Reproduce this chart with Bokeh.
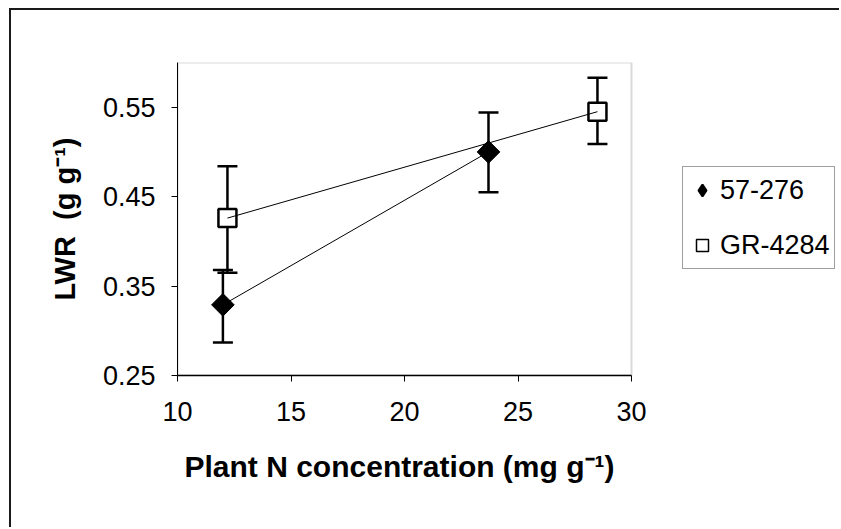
import math
from bokeh.plotting import figure
from bokeh.models import (ColumnDataSource, Whisker, TeeHead, Legend, LegendItem, BoxAnnotation,
                          FixedTicker, NumeralTickFormatter, Range1d, InlineStyleSheet, Title)
from bokeh.embed import file_html
from bokeh.resources import INLINE

# ---- data ----
series_names = ["57-276", "GR-4284"]
n_conc_57 = [12.0, 23.7]
lwr_57 = [0.329, 0.500]
lwr_57_upper = [0.368, 0.544]
lwr_57_lower = [0.287, 0.455]

n_conc_gr = [12.2, 28.5]
lwr_gr = [0.426, 0.545]
lwr_gr_upper = [0.484, 0.583]
lwr_gr_lower = [0.365, 0.509]

x_ticks = [10, 15, 20, 25, 30]
y_ticks = [0.25, 0.35, 0.45, 0.55]
x_lim = (10, 30)
y_lim = (0.25, 0.60)
x_title = "Plant N concentration (mg g\u207b\u00b9)"
y_title = "LWR\u00a0 (g g\u207b\u00b9)"

FONT = "Liberation Sans"

# layout (pixels): canvas is offset by the outer frame (margin 9/8 + 2px border)
CANVAS_W, CANVAS_H = 830, 519
BORDER_L, BORDER_T, BORDER_B = 166, 52, 154
PLOT_W = 454                       # width of the boxed plot area
FRAME_W = CANVAS_W - BORDER_L      # frame runs to the right edge (room for legend)
x_end = x_lim[0] + (x_lim[1] - x_lim[0]) * FRAME_W / PLOT_W

p = figure(width=CANVAS_W, height=CANVAS_H, output_backend="svg", toolbar_location=None,
           x_range=Range1d(x_lim[0], x_end), y_range=Range1d(*y_lim),
           min_border_left=BORDER_L, min_border_right=0, min_border_top=BORDER_T,
           min_border_bottom=BORDER_B)
p.margin = (8, 0, 0, 9)
p.stylesheets = [InlineStyleSheet(css=":host { border-left: 2px solid #1a1a1a; border-top: 2px solid #1a1a1a; }")]
p.background_fill_color = "white"
p.border_fill_color = "white"
p.xgrid.visible = False
p.ygrid.visible = False
p.outline_line_color = None

for ax in (p.xaxis[0], p.yaxis[0]):
    ax.axis_line_color = "black"
    ax.major_tick_line_color = "black"
    ax.major_tick_in = 0
    ax.major_tick_out = 6
    ax.minor_tick_line_color = None
    ax.major_label_text_font = FONT
    ax.major_label_text_font_size = "27px"
    ax.major_label_text_color = "black"
    ax.axis_label_text_font = FONT
    ax.axis_label_text_font_style = "bold"
    ax.axis_label_text_color = "black"

p.xaxis.bounds = x_lim
p.xaxis.ticker = FixedTicker(ticks=x_ticks)
p.yaxis.ticker = FixedTicker(ticks=y_ticks)
p.yaxis.formatter = NumeralTickFormatter(format="0.00")
p.xaxis.axis_line_width = 1.5
p.yaxis.axis_line_width = 1
p.xaxis.major_label_standoff = 20
p.yaxis.major_label_standoff = 16
p.yaxis.axis_label = y_title
p.yaxis.axis_label_text_font_size = "29px"
p.yaxis.axis_label_standoff = 19

# x-axis title, positioned under the boxed plot area
p.add_layout(Title(text=x_title, align="left", offset=7, standoff=48, vertical_align="bottom",
                   text_font=FONT, text_font_size="30px", text_font_style="bold",
                   text_color="black"), "below")

# grey box around the plot area (top and right sides visible)
p.add_layout(BoxAnnotation(left=x_lim[0], right=x_lim[1], bottom=y_lim[0], top=y_lim[1],
                           fill_alpha=0, line_color="#808080", line_width=2, level="underlay"))

src_a = ColumnDataSource(dict(x=n_conc_57, y=lwr_57, up=lwr_57_upper, lo=lwr_57_lower))
src_b = ColumnDataSource(dict(x=n_conc_gr, y=lwr_gr, up=lwr_gr_upper, lo=lwr_gr_lower))

for src in (src_a, src_b):
    w = Whisker(source=src, base="x", upper="up", lower="lo",
                line_color="black", line_width=2.5, level="underlay",
                upper_head=TeeHead(size=20, line_width=2.5, line_color="black"),
                lower_head=TeeHead(size=20, line_width=2.5, line_color="black"))
    p.add_layout(w)

p.scatter("x", "y", source=src_a, marker="square", angle=math.pi / 4, size=16,
          fill_color="black", line_color="black", line_width=1)
p.scatter("x", "y", source=src_b, marker="square", size=18,
          fill_color="white", line_color="black", line_width=2.5)
p.line("x", "y", source=src_a, line_color="black", line_width=1)
p.line("x", "y", source=src_b, line_color="black", line_width=1)

# legend-only glyph renderers (hidden on the plot)
la = p.scatter("x", "y", source=src_a, marker="diamond", size=16,
               fill_color="black", line_color="black", line_width=2, visible=False)
lb = p.scatter("x", "y", source=src_b, marker="square", size=16,
               fill_color="white", line_color="black", line_width=1.5, visible=False)

legend = Legend(items=[LegendItem(label=series_names[0], renderers=[la]),
                       LegendItem(label=series_names[1], renderers=[lb])],
                location=(505, 106), orientation="vertical",
                border_line_color="#404040", border_line_width=1.5,
                background_fill_color="white", background_fill_alpha=1,
                label_text_font=FONT, label_text_font_size="27px", label_text_color="black",
                glyph_width=30, glyph_height=30, label_height=38, label_standoff=3,
                spacing=17, padding=4, margin=0)
p.add_layout(legend, "center")

open("out.html", "w").write(file_html(p, INLINE))
